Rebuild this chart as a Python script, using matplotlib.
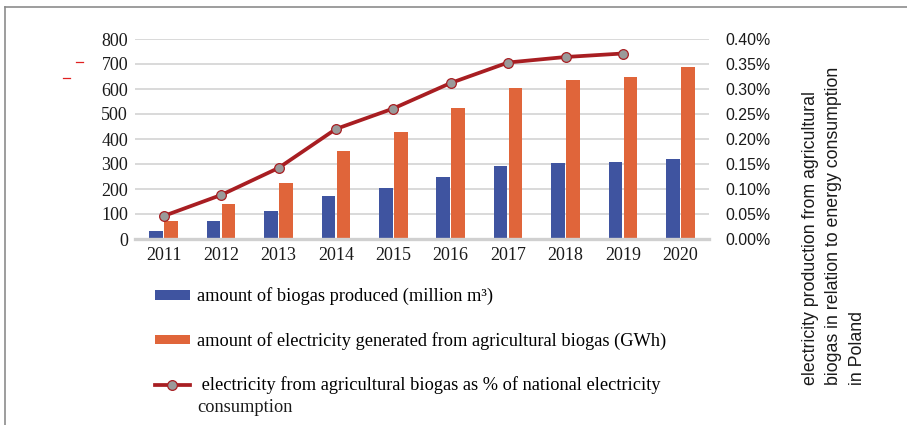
"""Biogas production and electricity from agricultural biogas in Poland, 2011-2020."""

import matplotlib

matplotlib.use("Agg")
import matplotlib.pyplot as plt
import numpy as np
from matplotlib.lines import Line2D
from matplotlib.ticker import FuncFormatter

years = ["2011", "2012", "2013", "2014", "2015", "2016", "2017", "2018", "2019", "2020"]
biogas = [34, 72, 112, 174, 206, 250, 292, 304, 308, 322]
electricity = [72, 140, 226, 353, 428, 524, 606, 638, 647, 688]
share_pct = [0.046, 0.088, 0.142, 0.220, 0.261, 0.312, 0.353, 0.364, 0.371]

labels = [
    "amount of biogas produced (million m\u00b3)",
    "amount of electricity generated from agricultural biogas (GWh)",
    " electricity from agricultural biogas as % of national electricity",
]

BLUE = "#3F54A0"
ORANGE = "#E0653A"
RED = "#A81E22"
GREY_MARK = "#9A9A9A"
SERIF = "Liberation Serif"
SANS = "Liberation Sans"

fig = plt.figure(figsize=(9.07, 4.25), dpi=100)
ax = fig.add_axes([135 / 907, 1 - 239 / 425, 574 / 907, 200 / 425])

x = np.arange(len(years))
w = 0.235
b1 = ax.bar(x - 0.13, biogas, w, color=BLUE, zorder=2)
b2 = ax.bar(x + 0.13, electricity, w, color=ORANGE, zorder=2)

ax.set_xlim(-0.5, len(years) - 0.5)
ax.set_ylim(0, 800)
ax.set_yticks(range(0, 801, 100))
ax.set_xticks(x)
ax.set_xticklabels(years)
ax.yaxis.grid(True, color="#D9D9D9", lw=1.4, zorder=0)
ax.set_axisbelow(True)
for s in ["top", "right", "left"]:
    ax.spines[s].set_visible(False)
ax.spines["bottom"].set_color("#D0D0D0")
ax.spines["bottom"].set_linewidth(2.4)
ax.tick_params(length=0)
ax.tick_params(axis="y", pad=5)
ax.tick_params(axis="x", pad=6)
for t in ax.get_xticklabels() + ax.get_yticklabels():
    t.set_fontfamily(SERIF)
    t.set_fontsize(13)
    t.set_color("#1A1A1A")

ax2 = ax.twinx()
ln, = ax2.plot(x[: len(share_pct)], share_pct, color=RED, lw=2.7, marker="o",
               markersize=7, markerfacecolor=GREY_MARK, markeredgecolor=RED,
               markeredgewidth=0.9, zorder=3)
ax2.set_ylim(0, 0.40)
ax2.set_yticks(np.arange(0, 0.401, 0.05))
ax2.yaxis.set_major_formatter(FuncFormatter(lambda v, _: f"{v:.2f}%"))
for s in ax2.spines.values():
    s.set_visible(False)
ax2.tick_params(length=0, pad=12)
for t in ax2.get_yticklabels():
    t.set_fontfamily(SANS)
    t.set_fontsize(11.4)
    t.set_color("#1A1A1A")

fig.text(834 / 907, 1 - 385 / 425,
         "electricity production from agricultural\nbiogas in relation to energy consumption\nin Poland",
         rotation=90, ha="center", va="bottom", multialignment="left",
         fontfamily=SANS, fontsize=12.8, linespacing=1.5, color="#1A1A1A")

leg = fig.legend([b1, b2, ln], labels, loc="center left",
                 bbox_to_anchor=(155 / 907, 1 - 341 / 425), frameon=False,
                 borderpad=0, borderaxespad=0, handlelength=1.9, handleheight=0.44,
                 handletextpad=0.38, labelspacing=1.45,
                 prop={"family": SERIF, "size": 13.2})
fig.text(197 / 907, 1 - 407 / 425, "consumption", fontfamily=SERIF, fontsize=13.2,
         va="center", color="#1A1A1A")

# outer frame and the stray red marks
fig.add_artist(Line2D([5 / 907, 5 / 907], [0, 1 - 7 / 425], color="#8C8C8C", lw=1.2))
fig.add_artist(Line2D([5 / 907, 1], [1 - 7 / 425, 1 - 7 / 425], color="#8C8C8C", lw=1.2))
fig.add_artist(Line2D([76 / 907, 83 / 907], [1 - 62 / 425] * 2, color="#E02020", lw=0.9))
fig.add_artist(Line2D([63 / 907, 70 / 907], [1 - 78 / 425] * 2, color="#E02020", lw=0.9))

fig.savefig("out.png", dpi=100)
